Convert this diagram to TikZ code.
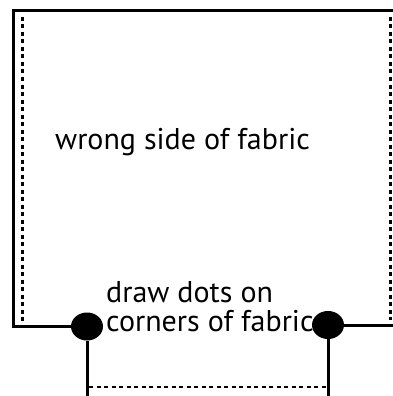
\documentclass[tikz,border=0pt]{standalone}
\usepackage{fontspec}
\setmainfont{PT Sans}
\usetikzlibrary{shapes.geometric}

\begin{document}
\begin{tikzpicture}[
    x=1pt, y=-1pt,
    font=\fontsize{30}{28.5}\selectfont,
    edge/.style={line width=3pt},
    seam/.style={line width=2.5pt, dash pattern=on 4pt off 3.5pt},
    dot/.style={ellipse, fill=black, minimum width=32pt, minimum height=28pt, inner sep=0pt},
    label/.style={align=left, inner sep=0pt}
]
\useasboundingbox (0,0) rectangle (392,396);
% corners to mark
\node[dot] (dotL) at (87,326.5) {};
\node[dot] (dotR) at (328,325) {};
% fabric outline
\coordinate (cornerBL) at (13.5,326.5);
\coordinate (cornerTL) at (13.5,10.5);
\coordinate (cornerTR) at (394,10.5);
\coordinate (edgeR) at (394,325);
\draw[edge, line join=miter] (dotL.west) -- (cornerBL) -- (cornerTL) -- (cornerTR);
\draw[edge] (dotR.east) -- (edgeR);
% seam lines
\coordinate (seamLT) at (22.5,17);
\coordinate (seamLB) at (22.5,322);
\coordinate (seamRT) at (390.5,17);
\coordinate (seamRB) at (390.5,320);
\draw[seam] (seamLT) -- (seamLB);
\draw[seam] (seamRT) -- (seamRB);
% lower edges
\coordinate (downL) at (87,398);
\coordinate (downR) at (328,398);
\draw[edge] (dotL) -- (downL);
\draw[edge] (dotR) -- (downR);
\coordinate (hemL) at (89,387);
\coordinate (hemR) at (327,387);
\draw[seam] (hemL) -- (hemR);
% texts
\node[label, anchor=base west] (wrong) at (55,149) {wrong side of fabric};
\node[label, anchor=base west] (dots) at (106,331) {draw dots on\\corners of fabric};
\end{tikzpicture}
\end{document}
